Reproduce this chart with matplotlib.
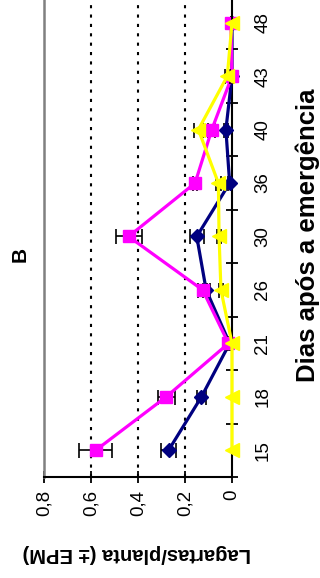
import matplotlib
matplotlib.use("Agg")
import matplotlib.pyplot as plt
import numpy as np

plt.rcParams['font.family'] = ['Liberation Sans', 'DejaVu Sans']

# dias após a emergência (categorias)
dias = ['15', '18', '21', '26', '30', '36', '40', '43', '48']

# lagartas por planta e erro padrão da média
media_losango = [0.27, 0.13, 0.01, 0.11, 0.15, 0.01, 0.026, 0.0, 0.0]
epm_losango = [0.032, 0.02, 0.005, 0.015, 0.03, 0.005, 0.01, 0.005, 0.0]

media_quadrado = [0.58, 0.28, 0.015, 0.125, 0.44, 0.157, 0.086, 0.0, 0.005]
epm_quadrado = [0.07, 0.036, 0.005, 0.02, 0.055, 0.01, 0.015, 0.005, 0.0]

media_triangulo = [0.0, 0.0, 0.0, 0.047, 0.055, 0.058, 0.143, 0.02, 0.0]
epm_triangulo = [0.0, 0.0, 0.0, 0.01, 0.01, 0.01, 0.02, 0.01, 0.0]

ticks_valor = [0, 0.2, 0.4, 0.6, 0.8]
rotulos_valor = ['0', '0,2', '0,4', '0,6', '0,8']

fig = plt.figure(figsize=(3.2, 5.78), dpi=100)
ax = fig.add_axes([44 / 320, 101 / 578, 188 / 320, 481 / 578])

pos = np.arange(len(dias))

# grade pontilhada
for v in ticks_valor[1:-1]:
    ax.axvline(v, color='black', lw=1.5, ls=(0, (1.5, 3)), zorder=1)

series = [
    (media_losango, epm_losango, '#000080', 'D', 7.5),
    (media_quadrado, epm_quadrado, '#FF00FF', 's', 8.5),
    (media_triangulo, epm_triangulo, '#FFFF00', '<', 9.5),
]
for i, (media, epm, cor, marcador, tam) in enumerate(series):
    ax.errorbar(media, pos, xerr=epm, fmt='none', ecolor='black',
                elinewidth=1.2, capsize=5.4, capthick=1.2,
                zorder=2 + 2 * i, clip_on=False)
    ax.plot(media, pos, color=cor, lw=2.3, marker=marcador, ms=tam,
            mec=cor, mfc=cor, zorder=3 + 2 * i, clip_on=False)

ax.set_xlim(0.8, 0)
ax.set_ylim(-0.5, 8.5)

ax.set_xticks(ticks_valor)
ax.set_xticklabels(rotulos_valor, rotation=90, fontsize=13.5)
ax.set_yticks(pos)
ax.set_yticklabels(dias, rotation=90, fontsize=13.5, va='center')
ax.set_yticks(np.arange(-0.5, 9, 1), minor=True)

ax.yaxis.tick_right()
ax.tick_params(axis='x', direction='inout', length=8, width=1.3, pad=5)
ax.tick_params(axis='y', which='major', length=0, pad=16)
ax.tick_params(axis='y', which='minor', direction='inout', length=8,
               width=1.3)

ax.spines['top'].set_visible(False)
ax.spines['left'].set_color('#808080')
ax.spines['left'].set_linewidth(1.8)
ax.spines['right'].set_linewidth(1.5)
ax.spines['bottom'].set_linewidth(1.5)

fig.text(20 / 320, 1 - 254 / 578, 'B', rotation=90, fontsize=15,
         fontweight='bold', ha='center', va='center')
fig.text(308 / 320, 1 - 235 / 578, 'Dias após a emergência', rotation=90,
         fontsize=18.5, fontweight='bold', ha='center', va='center')
fig.text(137 / 320, 1 - 554 / 578, 'Lagartas/planta (± EPM)', rotation=180,
         fontsize=14.5, fontweight='bold', ha='center', va='center')

fig.savefig('out.png', dpi=100)
